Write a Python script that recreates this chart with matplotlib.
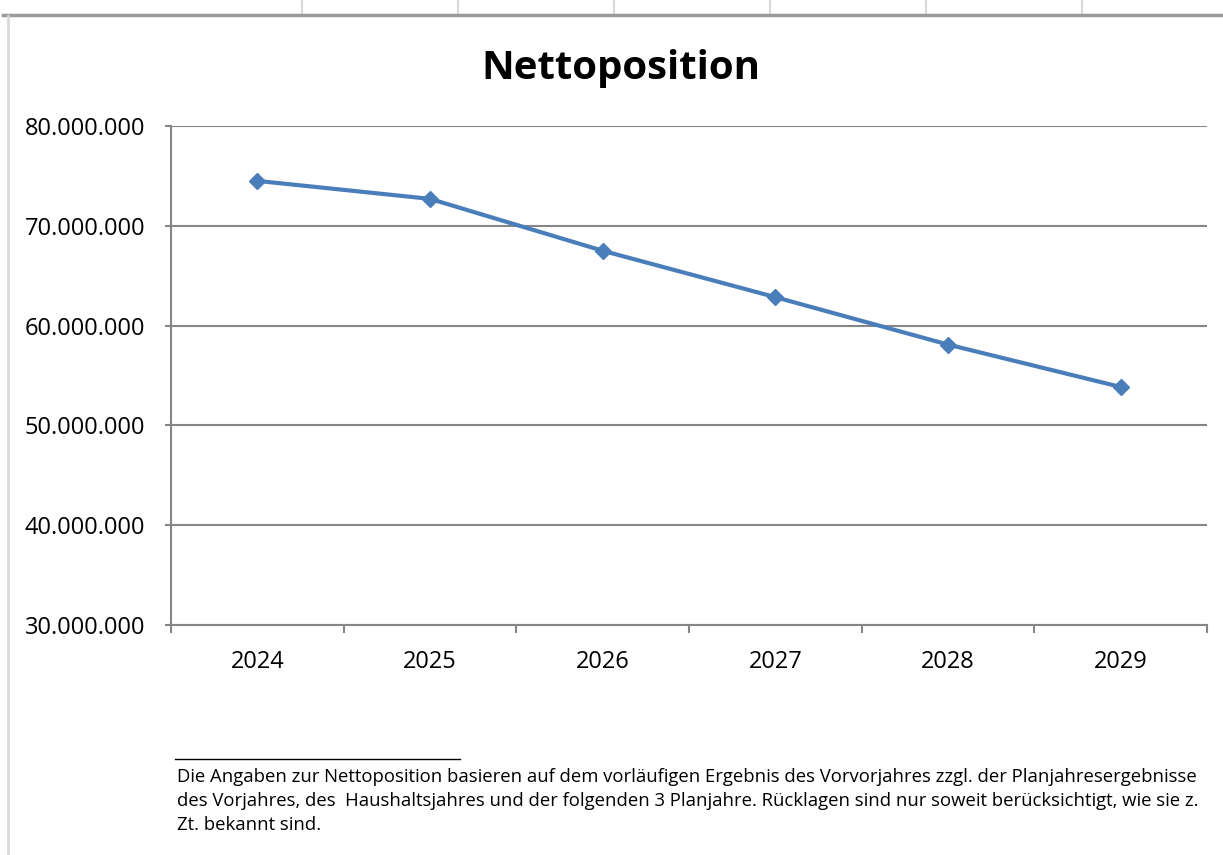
import matplotlib.pyplot as plt
from matplotlib.lines import Line2D
from matplotlib.ticker import FixedLocator, FuncFormatter
import numpy as np

plt.rcParams["font.family"] = ["Open Sans", "DejaVu Sans"]

# data
years = ["2024", "2025", "2026", "2027", "2028", "2029"]
netto = [74.5e6, 72.7e6, 67.5e6, 62.85e6, 58.1e6, 53.85e6]

line_color = "#4A7EBB"
grid_color = "#868686"

fig = plt.figure(figsize=(12.23, 8.55), dpi=100)
ax = fig.add_axes([171 / 1223, 230 / 855, 1036 / 1223, 499 / 855])

x = np.arange(len(years))
ax.plot(x, netto, color=line_color, linewidth=3, marker="D", markersize=8,
        markerfacecolor=line_color, markeredgecolor=line_color, zorder=3)

ax.set_xlim(-0.5, len(years) - 0.5)
ax.set_ylim(30e6, 80e6)
ax.set_yticks(np.arange(30e6, 80e6 + 1, 10e6))
ax.yaxis.set_major_formatter(FuncFormatter(lambda v, p: f"{int(v):,}".replace(",", ".")))
ax.grid(axis="y", color=grid_color, linewidth=1.5)
ax.set_axisbelow(True)

# category ticks at boundaries, labels centred
ax.xaxis.set_major_locator(FixedLocator(np.arange(-0.5, len(years), 1)))
ax.xaxis.set_minor_locator(FixedLocator(x))
ax.set_xticklabels([])
ax.set_xticklabels(years, minor=True)
ax.tick_params(axis="x", which="major", length=5.8, width=1.5, color=grid_color)
ax.tick_params(axis="x", which="minor", length=0, pad=18, labelsize=17)
ax.tick_params(axis="y", length=4.3, width=1.5, color=grid_color, labelsize=17, pad=14.4)

for s in ["top", "right"]:
    ax.spines[s].set_visible(False)
for s in ["left", "bottom"]:
    ax.spines[s].set_color(grid_color)
    ax.spines[s].set_linewidth(1.5)

fig.text(621 / 1223, 1 - 69 / 855, "Nettoposition", ha="center", va="center",
         fontsize=29, weight="bold")

# spreadsheet frame around the chart
def fx(px):
    return px / 1223

def fy(py):
    return 1 - py / 855

for vx in [302, 458, 614, 770, 926, 1082]:
    fig.add_artist(Line2D([fx(vx), fx(vx)], [fy(0), fy(14)], color="#D9D9D9", linewidth=1.5))
fig.add_artist(Line2D([fx(3), fx(1223)], [fy(15), fy(15)], color="#9A9A9A", linewidth=2.5))
fig.add_artist(Line2D([fx(8), fx(8)], [fy(16), fy(855)], color="#D9D9D9", linewidth=2))

# footnote
fig.add_artist(Line2D([fx(175), fx(460)], [fy(759), fy(759)], color="black", linewidth=1))
note = ("Die Angaben zur Nettoposition basieren auf dem vorläufigen Ergebnis des Vorvorjahres zzgl. der Planjahresergebnisse\n"
        "des Vorjahres, des  Haushaltsjahres und der folgenden 3 Planjahre. Rücklagen sind nur soweit berücksichtigt, wie sie z.\n"
        "Zt. bekannt sind.")
fig.text(fx(177), fy(768), note, ha="left", va="top", fontsize=13.3, linespacing=1.44)

fig.savefig("out.png", dpi=100, facecolor="white")
